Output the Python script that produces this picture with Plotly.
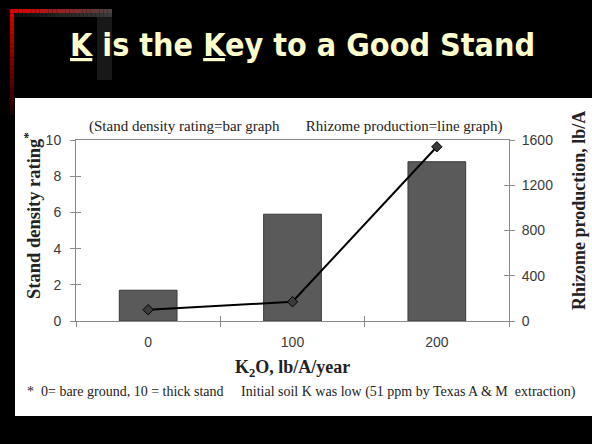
import plotly.graph_objects as go

# K2O rates (lb/A/year), stand density rating (0-10) and rhizome production (lb/A)
k2o_rates = ["0", "100", "200"]
stand_density = [1.7, 5.9, 8.8]
rhizome_lb_per_acre = [100, 170, 1540]

left_ticks = [0, 2, 4, 6, 8, 10]
right_ticks = [0, 400, 800, 1200, 1600]

W, H = 592, 444
L, R, T, B = 76, 83, 140, 123
PW, PH = W - L - R, H - T - B


def fx(px):
    return (px - L) / PW


def fy(py):
    return (H - B - py) / PH


def mix(c1, c2, t):
    return "rgb(%d,%d,%d)" % tuple(round(a + (b - a) * t) for a, b in zip(c1, c2))


fig = go.Figure()

fig.add_trace(go.Bar(
    x=k2o_rates, y=stand_density, width=0.4,
    marker=dict(color="#5a5a5a", line=dict(color="#3a3a3a", width=1)),
    yaxis="y", hoverinfo="skip", showlegend=False,
))
fig.add_trace(go.Scatter(
    x=k2o_rates, y=rhizome_lb_per_acre, mode="lines+markers",
    line=dict(color="#000000", width=2),
    marker=dict(symbol="diamond", size=8, color="#3c3c3c",
                line=dict(color="#000000", width=1)),
    yaxis="y2", hoverinfo="skip", showlegend=False,
))

# transparent companions so the inner half of each cross tick gets drawn
ghost = dict(mode="markers", marker=dict(opacity=0), hoverinfo="skip", showlegend=False)
fig.add_trace(go.Scatter(x=k2o_rates, y=stand_density, xaxis="x2", yaxis="y", **ghost))
fig.add_trace(go.Scatter(x=k2o_rates, y=stand_density, xaxis="x", yaxis="y3", **ghost))
fig.add_trace(go.Scatter(x=k2o_rates, y=rhizome_lb_per_acre, xaxis="x", yaxis="y4", **ghost))

shapes = []
# white content panel
shapes.append(dict(type="rect", xref="paper", yref="paper", layer="below",
                   x0=fx(15), x1=fx(593), y0=fy(98), y1=fy(416),
                   fillcolor="white", line=dict(width=0)))
# decorative corner: fading red frame and grey glow
n = 24
for i in range(n):
    t0, t1 = i / n, (i + 1) / n
    shapes.append(dict(type="rect", xref="paper", yref="paper", layer="below",
                       x0=fx(10), x1=fx(14), y0=fy(9 + 106 * t0), y1=fy(9 + 106 * t1),
                       fillcolor=mix((225, 0, 0), (25, 0, 0), t0), line=dict(width=0)))
    shapes.append(dict(type="rect", xref="paper", yref="paper", layer="below",
                       x0=fx(10 + 102 * t0), x1=fx(10 + 102 * t1), y0=fy(9), y1=fy(13),
                       fillcolor=mix((225, 0, 0), (70, 70, 70), t0), line=dict(width=0)))
    shapes.append(dict(type="rect", xref="paper", yref="paper", layer="below",
                       x0=fx(14 + 98 * t0), x1=fx(14 + 98 * t1), y0=fy(13), y1=fy(17),
                       fillcolor=mix((15, 15, 15), (60, 60, 60), t0), line=dict(width=0)))
shapes.append(dict(type="rect", xref="paper", yref="paper", layer="below",
                   x0=fx(97), x1=fx(112), y0=fy(17), y1=fy(80),
                   fillcolor="#181818", line=dict(width=0)))

serif = "Liberation Serif, Times New Roman, serif"
sans = "Liberation Sans, Arial, sans-serif"
nb = "\u00a0"


def label(text, px, py, size, family=serif, color="#222222", angle=0):
    return dict(text=text, xref="paper", yref="paper", x=fx(px), y=fy(py),
                xanchor="center", yanchor="middle", textangle=angle, showarrow=False,
                font=dict(family=family, size=size, color=color))


annotations = [
    label("<b><u>K</u> is the <u>K</u>ey to a Good Stand</b>", 302, 45, 32,
          family="DejaVu Sans Condensed, DejaVu Sans, sans-serif", color="#ffffcc"),
    label("(Stand density rating=bar graph" + nb * 7 + "Rhizome production=line graph)",
          296, 126, 15),
    label("<b>Stand density rating<sup>*</sup></b>", 32, 216, 18.5, angle=-90),
    label("<b>Rhizome production, lb/A</b>", 579, 211, 18, angle=-90),
    label("<b>K<sub>2</sub>O, lb/A/year</b>", 292, 368, 18),
    label("*" + nb * 2 + "0= bare ground, 10 = thick stand" + nb * 5
          + "Initial soil K was low (51 ppm by Texas A & M" + nb * 2 + "extraction)",
          301, 392, 14),
]

axis_grey = "#8a8a8a"
tick_font = dict(family=sans, size=14, color="#3a3a3a")

fig.update_layout(
    width=W, height=H, autosize=False,
    margin=dict(l=L, r=R, t=T, b=B, pad=0),
    paper_bgcolor="#000000", plot_bgcolor="white",
    showlegend=False,
    xaxis=dict(type="category", categoryorder="array", categoryarray=k2o_rates,
               range=[-0.5, 2.5], tickson="boundaries", ticks="outside", ticklen=5,
               tickcolor=axis_grey, showline=True, linecolor=axis_grey, linewidth=1,
               mirror=True, showgrid=False, zeroline=False, tickfont=tick_font,
               ticklabelstandoff=8),
    xaxis2=dict(type="category", categoryorder="array", categoryarray=k2o_rates,
                overlaying="x", anchor="y", side="bottom", range=[-0.5, 2.5],
                tickson="boundaries", ticks="inside", ticklen=5,
                tickcolor=axis_grey, showticklabels=False, showline=False,
                showgrid=False, zeroline=False),
    yaxis=dict(range=[0, 10], tickvals=left_ticks, ticks="outside", ticklen=5,
               tickcolor=axis_grey, showline=True, linecolor=axis_grey, linewidth=1,
               showgrid=False, zeroline=False, tickfont=tick_font, ticklabelstandoff=6),
    yaxis2=dict(range=[0, 1600], tickvals=right_ticks, overlaying="y", side="right",
                anchor="x", ticks="outside", ticklen=5, tickcolor=axis_grey,
                showline=True, linecolor=axis_grey, linewidth=1, showgrid=False,
                zeroline=False, tickfont=tick_font, ticklabelstandoff=4),
    yaxis3=dict(range=[0, 10], tickvals=left_ticks, overlaying="y", side="left",
                anchor="x", ticks="inside", ticklen=5, tickcolor=axis_grey,
                showticklabels=False, showline=False, showgrid=False, zeroline=False),
    yaxis4=dict(range=[0, 1600], tickvals=right_ticks, overlaying="y", side="right",
                anchor="x", ticks="inside", ticklen=5, tickcolor=axis_grey,
                showticklabels=False, showline=False, showgrid=False, zeroline=False),
    shapes=shapes,
    annotations=annotations,
)

fig.write_html("out.html")
